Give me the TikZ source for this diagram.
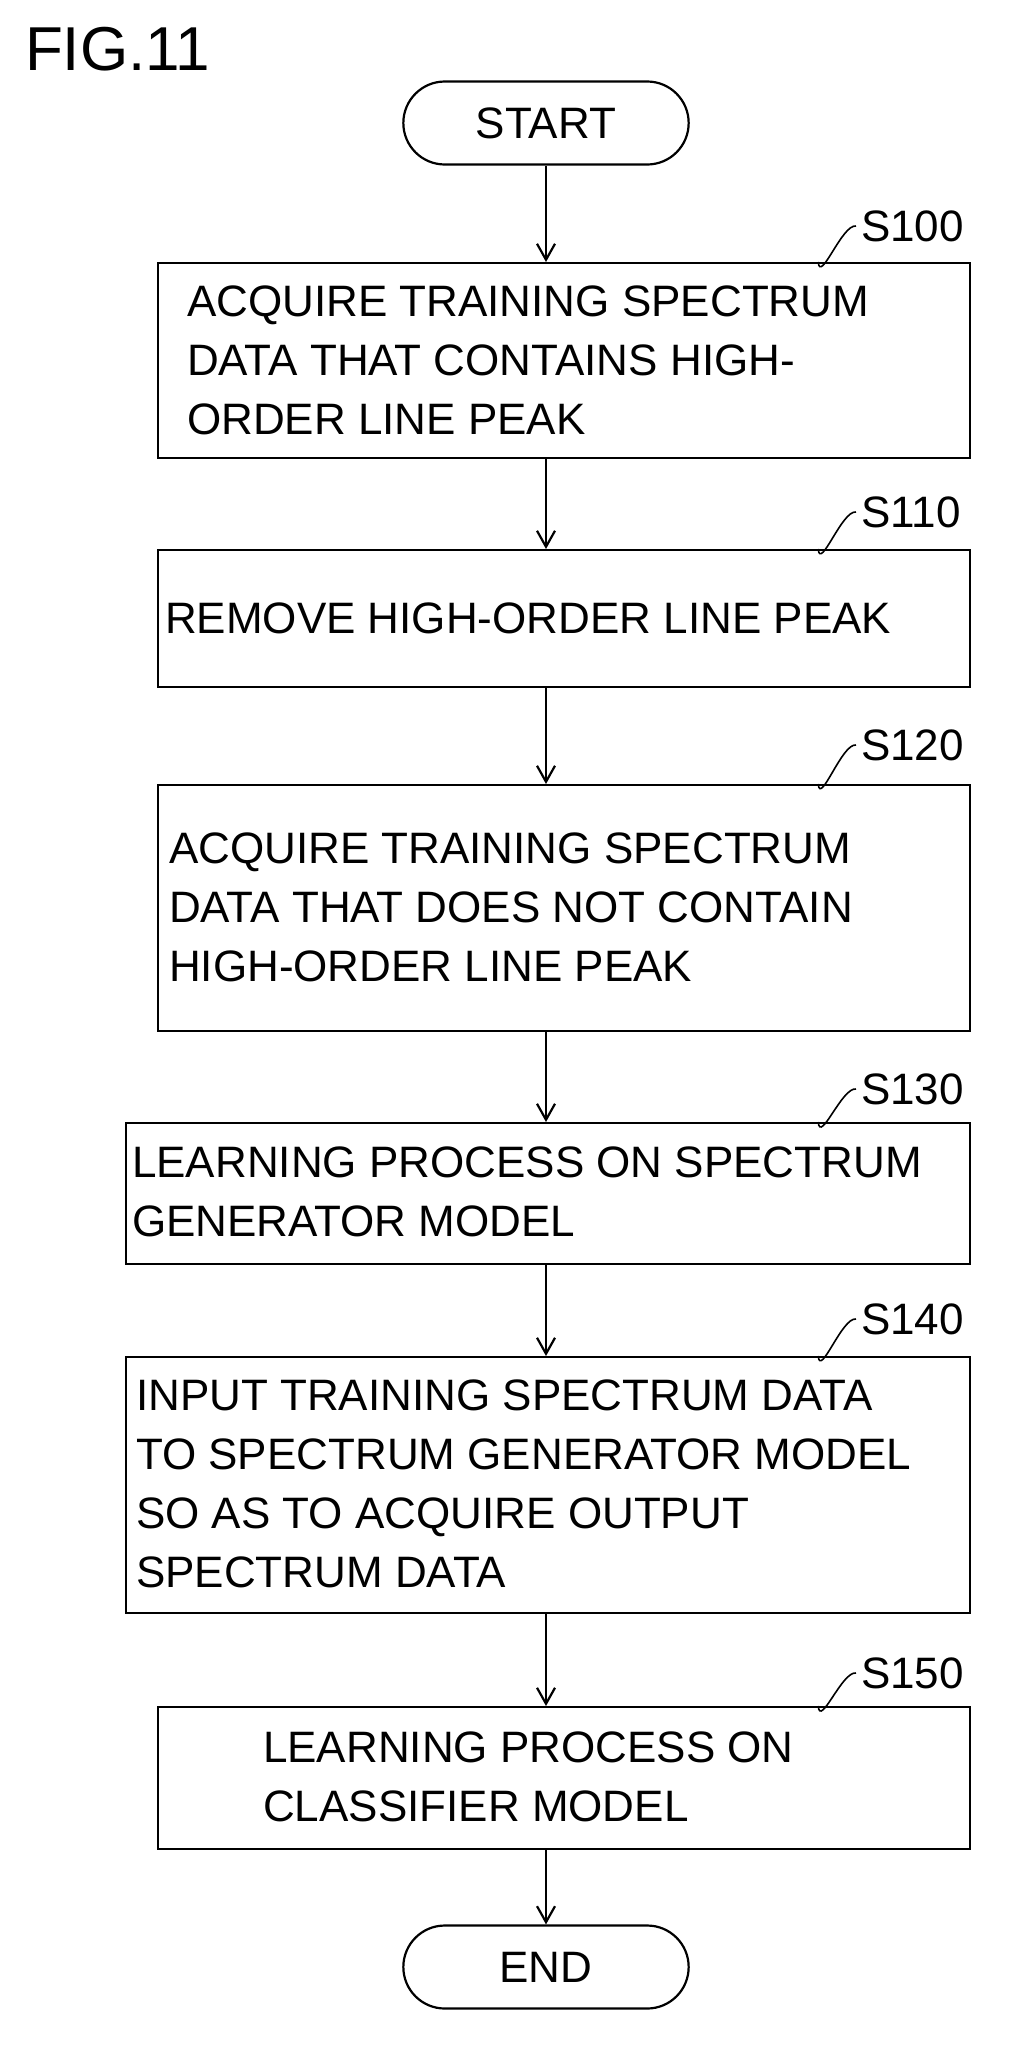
\documentclass[tikz,border=0pt]{standalone}
\usepackage{fontspec}
\setmainfont{Liberation Sans}
\usetikzlibrary{arrows.meta,shapes.misc}
\begin{document}
\begin{tikzpicture}[x=1pt,y=-1pt,line width=2.2pt,
  box/.style={draw,minimum width=812pt,anchor=north west,inner sep=0pt},
  txt/.style={anchor=west,align=left,font=\fontsize{44}{59}\selectfont,inner sep=0pt},
  term/.style={draw,rounded rectangle,minimum width=292pt,minimum height=83pt,font=\fontsize{44}{50}\selectfont},
  lab/.style={anchor=west,font=\fontsize{44}{50}\selectfont,inner sep=0pt},
  arr/.style={-{Straight Barb[length=16pt,width=18pt]}}]
\useasboundingbox (0,0) rectangle (1017,2057);
\node[anchor=north west,inner sep=0pt,font=\fontsize{62}{70}\selectfont] (fig) at (24,26) {FIG.11};
\node[term] (start) at (546,123) {START};
\node[box,minimum height=195pt] (b1) at (157,262) {};
\node[txt] (t1) at (186,360) {ACQUIRE TRAINING SPECTRUM\\DATA THAT CONTAINS HIGH-\\ORDER LINE PEAK};
\node[box,minimum height=137pt] (b2) at (157,549) {};
\node[txt] (t2) at (164,618) {REMOVE HIGH-ORDER LINE PEAK};
\node[box,minimum height=246pt] (b3) at (157,784) {};
\node[txt] (t3) at (168,907) {ACQUIRE TRAINING SPECTRUM\\DATA THAT DOES NOT CONTAIN\\HIGH-ORDER LINE PEAK};
\node[box,minimum width=844pt,minimum height=141pt] (b4) at (125,1122) {};
\node[txt] (t4) at (131,1192) {LEARNING PROCESS ON SPECTRUM\\GENERATOR MODEL};
\node[box,minimum width=844pt,minimum height=256pt] (b5) at (125,1356) {};
\node[txt] (t5) at (135,1484) {INPUT TRAINING SPECTRUM DATA\\TO SPECTRUM GENERATOR MODEL\\SO AS TO ACQUIRE OUTPUT\\SPECTRUM DATA};
\node[box,minimum height=142pt] (b6) at (157,1706) {};
\node[txt] (t6) at (262,1777) {LEARNING PROCESS ON\\CLASSIFIER MODEL};
\node[term] (end) at (546,1967) {END};
\foreach \a/\b in {start/b1,b1/b2,b2/b3,b3/b4,b4/b5,b5/b6,b6/end}
  \draw[arr] (\a.south -| start) -- (\b.north -| start);
\foreach \n/\y/\t in {1/226/S100,2/512/S110,3/745/S120,4/1089/S130,5/1319/S140,6/1673/S150}{
  \node[lab] (l\n) at (860,\y) {\t};
  \draw[line width=1.6pt] ([xshift=-153pt]b\n.north east) .. controls +(2pt,-22pt) and +(-14pt,2pt) .. ([xshift=-4pt]l\n.west);
}
\end{tikzpicture}
\end{document}
